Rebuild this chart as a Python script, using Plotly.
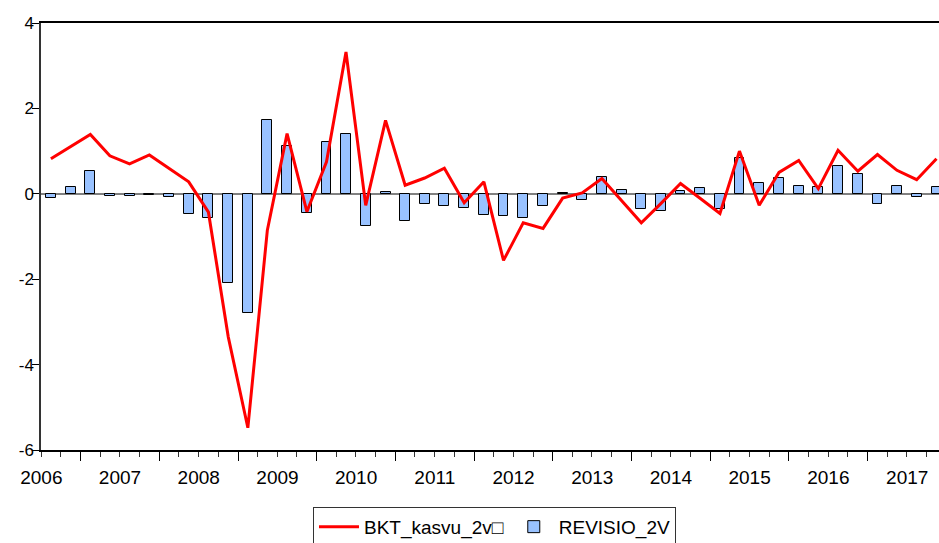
import pandas as pd
import plotly.graph_objects as go

quarters = ["2006Q3", "2006Q4",
            "2007Q1", "2007Q2", "2007Q3", "2007Q4",
            "2008Q1", "2008Q2", "2008Q3", "2008Q4",
            "2009Q1", "2009Q2", "2009Q3", "2009Q4",
            "2010Q1", "2010Q2", "2010Q3", "2010Q4",
            "2011Q1", "2011Q2", "2011Q3", "2011Q4",
            "2012Q1", "2012Q2", "2012Q3", "2012Q4",
            "2013Q1", "2013Q2", "2013Q3", "2013Q4",
            "2014Q1", "2014Q2", "2014Q3", "2014Q4",
            "2015Q1", "2015Q2", "2015Q3", "2015Q4",
            "2016Q1", "2016Q2", "2016Q3", "2016Q4",
            "2017Q1", "2017Q2", "2017Q3", "2017Q4"]

bkt_kasvu_2v = [0.82, 1.10,
                1.39, 0.89, 0.70, 0.91,
                0.60, 0.28, -0.43, -3.35,
                -5.48, -0.85, 1.41, -0.42,
                0.75, 3.32, -0.27, 1.72,
                0.20, 0.37, 0.60, -0.21,
                0.28, -1.56, -0.68, -0.81,
                -0.10, 0.02, 0.36, -0.15,
                -0.68, -0.23, 0.24, -0.11,
                -0.46, 1.00, -0.27, 0.50,
                0.78, 0.12, 1.02, 0.53,
                0.92, 0.55, 0.33, 0.82]

revisio_2v = [-0.09, 0.17,
              0.54, -0.05, -0.06, -0.03,
              -0.08, -0.48, -0.56, -2.10,
              -2.78, 1.72, 1.12, -0.46,
              1.21, 1.39, -0.76, 0.04,
              -0.64, -0.25, -0.28, -0.33,
              -0.50, -0.51, -0.57, -0.29,
              0.03, -0.15, 0.40, 0.08,
              -0.35, -0.41, 0.07, 0.14,
              -0.36, 0.85, 0.25, 0.36,
              0.19, 0.17, 0.64, 0.47,
              -0.23, 0.19, -0.07, 0.16]

y_ticks = [-6, -4, -2, 0, 2, 4]

# mid-quarter dates
periods = [pd.Period(q, freq="Q") for q in quarters]
x_mid = [p.start_time + (p.end_time - p.start_time) / 2 for p in periods]

DAY_MS = 86400000

fig = go.Figure()
fig.add_trace(go.Bar(
    x=x_mid, y=revisio_2v, name="REVISIO_2V",
    width=46 * DAY_MS, legendrank=2,
    marker=dict(color="#99C2FF", line=dict(color="#000000", width=1)),
))
fig.add_trace(go.Scatter(
    x=x_mid, y=bkt_kasvu_2v, name="BKT_kasvu_2v\u25a1",
    mode="lines", line=dict(color="#FF0000", width=3), legendrank=1,
))

fig.update_layout(
    width=939, height=543,
    margin=dict(l=41, r=0, t=23, b=93, autoexpand=False),
    paper_bgcolor="white", plot_bgcolor="white",
    font=dict(family="Liberation Sans, Arial, sans-serif", size=16, color="#000000"),
    showlegend=True,
    legend=dict(
        orientation="h", x=0.505, xanchor="center", y=-0.133, yanchor="top",
        bordercolor="#333333", borderwidth=1,
        font=dict(size=19), traceorder="normal",
        itemwidth=40,
    ),
    bargap=0,
)

fig.update_xaxes(
    type="date",
    range=["2006-07-01", "2017-11-27 14:00"],
    tick0="2000-01-01", dtick="M12",
    ticklabelmode="period", tickformat="%Y",
    ticks="outside", ticklen=9, tickwidth=1, tickcolor="#000000",
    minor=dict(dtick="M3", ticks="outside", ticklen=5, tickwidth=1, tickcolor="#333333", showgrid=False),
    showline=True, linecolor="#000000", linewidth=1.5, mirror=True,
    showgrid=False, zeroline=False, automargin=False,
    tickfont=dict(size=19),
)
fig.update_yaxes(
    range=[-6, 4], tickvals=y_ticks, ticktext=[str(v) for v in y_ticks],
    ticks="outside", ticklen=7, tickcolor="#000000",
    ticklabelstandoff=-5,
    showline=True, linecolor="#333333", linewidth=1.5, mirror=False,
    showgrid=False, automargin=False,
    zeroline=True, zerolinecolor="#808080", zerolinewidth=2,
    tickfont=dict(size=17),
)

fig.write_html(
    "out.html",
    config={"displayModeBar": False},
    post_script=(
        "document.body.style.margin='0';"
        "document.body.style.overflow='hidden';"
        "document.documentElement.style.overflow='hidden';"
    ),
)
